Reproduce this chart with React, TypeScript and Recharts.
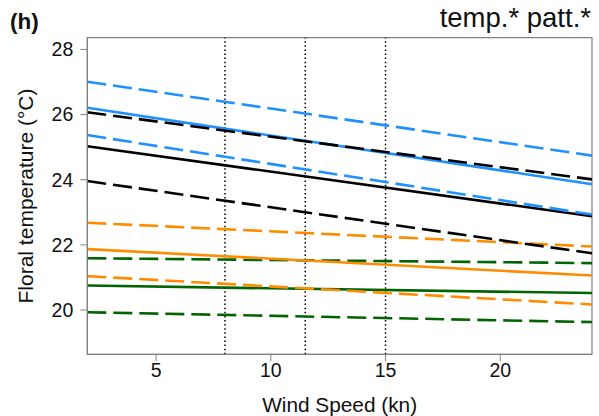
import React from 'react';
import {
    LineChart,
    Line,
    XAxis,
    YAxis,
    ReferenceLine,
    ReferenceArea
} from 'recharts';

// wind speed at the two ends of each fitted line
const windSpeed = [2, 24];

// floral temperature (°C) read at the ends of each line
const blueUpper = [27.01, 24.74];
const blueMean = [26.21, 23.86];
const blueLower = [25.37, 22.93];
const blackUpper = [26.07, 24.01];
const blackMean = [25.03, 22.88];
const blackLower = [23.96, 21.74];
const orangeUpper = [22.68, 21.95];
const orangeMean = [21.87, 21.06];
const orangeLower = [21.04, 20.17];
const greenUpper = [21.59, 21.44];
const greenMean = [20.75, 20.52];
const greenLower = [19.93, 19.63];

const xTicks = [5, 10, 15, 20];
const yTicks = [20, 22, 24, 26, 28];
const cutoffs = [8, 11.5, 15];

const chartData = windSpeed.map((w, i) => ({
    wind: w,
    blueUpper: blueUpper[i],
    blueMean: blueMean[i],
    blueLower: blueLower[i],
    blackUpper: blackUpper[i],
    blackMean: blackMean[i],
    blackLower: blackLower[i],
    orangeUpper: orangeUpper[i],
    orangeMean: orangeMean[i],
    orangeLower: orangeLower[i],
    greenUpper: greenUpper[i],
    greenMean: greenMean[i],
    greenLower: greenLower[i]
}));

const series = [
    { key: 'greenLower', color: '#006400', dashed: true },
    { key: 'greenUpper', color: '#006400', dashed: true },
    { key: 'greenMean', color: '#006400', dashed: false },
    { key: 'orangeLower', color: '#FF8C00', dashed: true },
    { key: 'orangeUpper', color: '#FF8C00', dashed: true },
    { key: 'orangeMean', color: '#FF8C00', dashed: false },
    { key: 'blackLower', color: '#000000', dashed: true },
    { key: 'blackMean', color: '#000000', dashed: false },
    { key: 'blueLower', color: '#1E90FF', dashed: true },
    { key: 'blueUpper', color: '#1E90FF', dashed: true },
    { key: 'blueMean', color: '#1E90FF', dashed: false },
    { key: 'blackUpper', color: '#000000', dashed: true }
];

const font = '"Liberation Sans", Arial, sans-serif';
const axisGray = '#808080';
const textColor = '#111';

// rotated y-axis title, centred on the plot height
const YTitle = (props: any) => {
    const vb = props.viewBox || {};
    const x = vb.x + 6;
    const y = vb.y + vb.height / 2;
    return (
        <text
            x={x}
            y={y}
            transform={`rotate(-90, ${x}, ${y})`}
            textAnchor="middle"
            fill={textColor}
            fontSize={21}
            fontFamily={font}
        >
            Floral temperature (°C)
        </text>
    );
};

export default function App() {
    return (
        <div style={{ position: 'relative', width: 599, height: 416, fontFamily: font }}>
            <style>{'body { margin: 0; background: #fff; }'}</style>
            <LineChart
                width={599}
                height={416}
                data={chartData}
                margin={{ top: 37.7, right: 7, left: 27.3, bottom: 21.7 }}
            >
                <XAxis
                    dataKey="wind"
                    type="number"
                    domain={[2, 24]}
                    ticks={xTicks}
                    height={40}
                    stroke={axisGray}
                    tickSize={7}
                    tickMargin={2}
                    tick={{ fill: textColor, fontSize: 19.5, fontFamily: font }}
                    label={{
                        value: 'Wind Speed (kn)',
                        position: 'insideBottom',
                        offset: -18,
                        style: { fill: textColor, fontSize: 20.8, fontFamily: font }
                    }}
                />
                <YAxis
                    type="number"
                    domain={[18.64, 28.36]}
                    ticks={yTicks}
                    width={60}
                    stroke={axisGray}
                    tickSize={7}
                    tickMargin={7}
                    tick={{ fill: textColor, fontSize: 19.5, fontFamily: font }}
                    label={<YTitle />}
                />
                <ReferenceArea
                    x1={2}
                    x2={24}
                    y1={18.64}
                    y2={28.36}
                    fill="none"
                    fillOpacity={0}
                    stroke={axisGray}
                    strokeWidth={1.2}
                    ifOverflow="visible"
                />
                {cutoffs.map(c => (
                    <ReferenceLine
                        key={c}
                        x={c}
                        stroke="#000"
                        strokeWidth={1.5}
                        strokeDasharray="1.5 2.6"
                    />
                ))}
                {series.map(s => (
                    <Line
                        key={s.key}
                        type="linear"
                        dataKey={s.key}
                        stroke={s.color}
                        strokeWidth={2.6}
                        strokeDasharray={s.dashed ? '19 7' : undefined}
                        dot={false}
                        activeDot={false}
                        isAnimationActive={false}
                    />
                ))}
            </LineChart>
            <div style={{ position: 'absolute', left: 10, top: 9, fontSize: 22.5, fontWeight: 'bold', color: textColor, lineHeight: 1.15 }}>
                (h)
            </div>
            <div style={{ position: 'absolute', right: 8, top: 2, fontSize: 27.5, color: textColor, lineHeight: 1.15 }}>
                temp.* patt.*
            </div>
        </div>
    );
}
